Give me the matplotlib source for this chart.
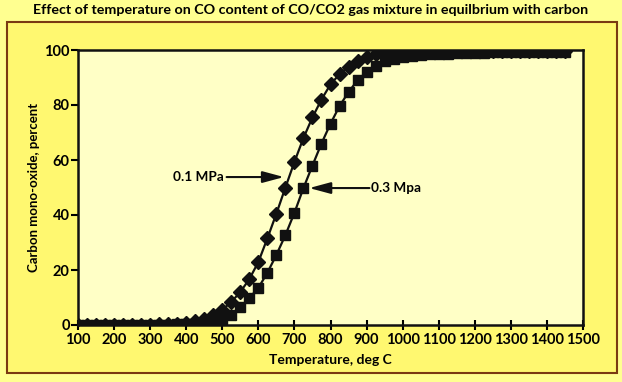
import matplotlib.pyplot as plt
from matplotlib.patches import Rectangle

plt.rcParams['font.family'] = ['Lato', 'DejaVu Sans']
plt.rcParams['font.weight'] = 'bold'

# Temperature, deg C (markers every 25 deg)
temp = [100, 125, 150, 175, 200, 225, 250, 275, 300, 325, 350, 375, 400, 425,
        450, 475, 500, 525, 550, 575, 600, 625, 650, 675, 700, 725, 750, 775,
        800, 825, 850, 875, 900, 925, 950, 975, 1000, 1025, 1050, 1075, 1100,
        1125, 1150, 1175, 1200, 1225, 1250, 1275, 1300, 1325, 1350, 1375, 1400,
        1425, 1450]

# CO percent at 0.1 MPa (diamonds)
co_01 = [0.0, 0.0, 0.0, 0.0, 0.0, 0.0, 0.0, 0.1, 0.1, 0.2, 0.3, 0.5, 0.8, 1.3,
         2.2, 3.6, 5.5, 8.4, 12.0, 16.7, 22.9, 31.5, 40.5, 50.0, 59.3, 68.0,
         75.5, 82.0, 87.5, 91.2, 94.0, 96.0, 97.5, 98.5, 99.0, 99.2, 99.3, 99.4,
         99.4, 99.5, 99.5, 99.5, 99.5, 99.6, 99.6, 99.6, 99.6, 99.6, 99.7, 99.7,
         99.7, 99.7, 99.7, 99.7, 99.7]

# CO percent at 0.3 MPa (squares)
co_03 = [0.0, 0.0, 0.0, 0.0, 0.0, 0.0, 0.0, 0.0, 0.0, 0.1, 0.1, 0.2, 0.3, 0.5,
         0.8, 1.2, 1.8, 3.5, 6.5, 9.8, 13.5, 19.0, 25.5, 32.7, 40.8, 49.8, 58.0,
         66.0, 73.2, 79.6, 84.7, 89.0, 92.0, 94.3, 96.0, 96.9, 97.5, 97.9, 98.2,
         98.4, 98.6, 98.7, 98.8, 98.9, 99.0, 99.0, 99.1, 99.1, 99.2, 99.2, 99.3,
         99.3, 99.3, 99.4, 99.4]

x_ticks = [100, 200, 300, 400, 500, 600, 700, 800, 900, 1000, 1100, 1200, 1300, 1400, 1500]
y_ticks = [0, 20, 40, 60, 80, 100]

fig = plt.figure(figsize=(6.22, 3.82), dpi=100)
fig.patch.set_facecolor('#FFFF90')

# brown frame around the chart
frame = Rectangle((7 / 622, 1 - 373 / 382), 610 / 622, 351 / 382, transform=fig.transFigure,
                  facecolor='#FFF870', edgecolor='#7A3A12', lw=1.5, zorder=-5)
fig.patches.append(frame)

ax = fig.add_axes([78 / 622, 57 / 382, 505 / 622, 275 / 382])
ax.set_facecolor('#FFFFC6')

ax.plot(temp, co_03, color='#111111', lw=1.6, marker='s', ms=7.5, zorder=3)
ax.plot(temp, co_01, color='#111111', lw=1.6, marker='D', ms=7, zorder=4)

ax.set_xlim(100, 1500)
ax.set_ylim(0, 100)
ax.set_xticks(x_ticks)
ax.set_yticks(y_ticks)
ax.tick_params(axis='x', direction='inout', length=7, width=1.5, labelsize=10.5, pad=2)
ax.tick_params(axis='y', direction='out', length=5, width=1.5, labelsize=10.5, pad=1)
for s in ax.spines.values():
    s.set_linewidth(1.8)
    s.set_color('#111111')

ax.set_xlabel('Temperature, deg C', fontsize=10, fontweight='bold', labelpad=5)
ax.set_ylabel('Carbon mono-oxide, percent', fontsize=9.5, fontweight='bold', labelpad=3)

arrow = dict(arrowstyle='-|>,head_length=1.3,head_width=0.35', color='#111111', lw=1.5,
             shrinkA=0, shrinkB=0)
ax.annotate('', xy=(671, 53.8), xytext=(512, 53.8), arrowprops=arrow)
ax.text(505, 53.8, '0.1 MPa', ha='right', va='center', fontsize=9.8, fontweight='bold')
ax.annotate('', xy=(741, 49.8), xytext=(908, 49.8), arrowprops=arrow)
ax.text(912, 49.8, '0.3 Mpa', ha='left', va='center', fontsize=9.8, fontweight='bold')

fig.text(0.5, 1 - 10 / 382, 'Effect of temperature on CO content of CO/CO2 gas mixture in equilbrium with carbon',
         ha='center', va='center', fontsize=10.3, fontweight='bold')

fig.savefig('out.png', dpi=100, facecolor=fig.get_facecolor())
